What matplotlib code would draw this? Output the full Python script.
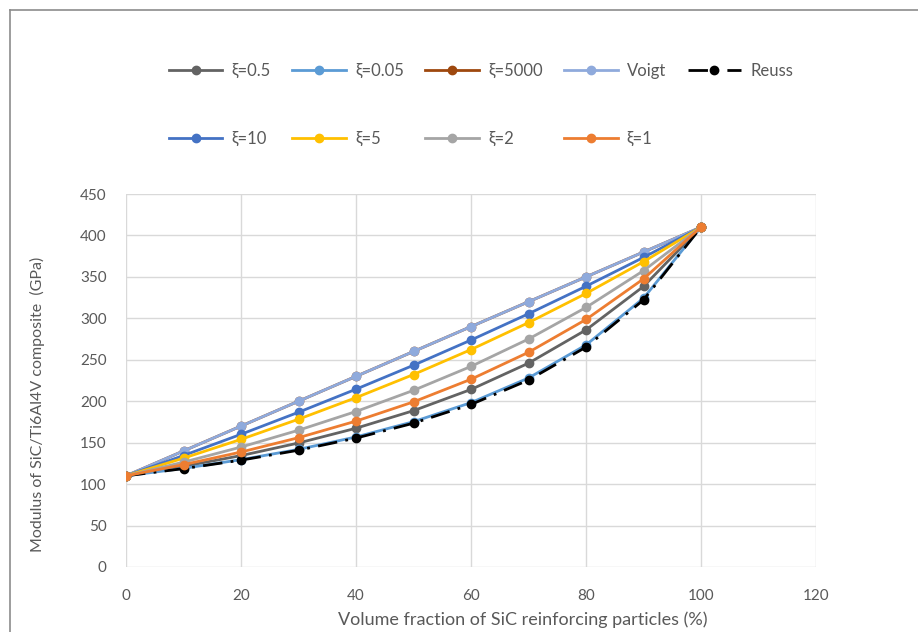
import matplotlib
matplotlib.use('Agg')
import matplotlib.pyplot as plt
from matplotlib.lines import Line2D

plt.rcParams['font.family'] = ['Lato', 'DejaVu Sans']

# volume fraction of SiC (%)
vf = [0, 10, 20, 30, 40, 50, 60, 70, 80, 90, 100]

# modulus (GPa)
e_xi05 = [110, 121.4, 134.4, 149.6, 167.4, 188.6, 214.2, 245.9, 286.0, 338.5, 410]
e_xi005 = [110, 119.0, 129.5, 141.9, 156.9, 175.3, 198.3, 228.0, 267.9, 324.3, 410]
e_xi5000 = [110, 140.0, 170.0, 200.0, 230.0, 260.0, 290.0, 320.0, 350.0, 380.0, 410]
e_voigt = [110, 140, 170, 200, 230, 260, 290, 320, 350, 380, 410]
e_reuss = [110, 118.7, 128.9, 140.9, 155.5, 173.5, 196.1, 225.5, 265.3, 322.2, 410]
e_xi10 = [110, 134.5, 160.1, 186.7, 214.5, 243.4, 273.8, 305.5, 338.7, 373.5, 410]
e_xi5 = [110, 131.3, 154.0, 178.3, 204.3, 232.2, 262.3, 294.8, 330.0, 368.3, 410]
e_xi2 = [110, 126.5, 144.7, 165.0, 187.6, 213.1, 242.0, 275.0, 313.1, 357.5, 410]
e_xi1 = [110, 123.5, 138.7, 156.0, 176.0, 199.2, 226.5, 259.0, 298.6, 347.6, 410]

series = [
    ('ξ=0.5', e_xi05, '#636363', '-'),
    ('ξ=0.05', e_xi005, '#5B9BD5', '-'),
    ('ξ=5000', e_xi5000, '#9E480E', '-'),
    ('Voigt', e_voigt, '#8FAADC', '-'),
    ('Reuss', e_reuss, '#000000', (0, (7, 3, 1, 3))),
    ('ξ=10', e_xi10, '#4472C4', '-'),
    ('ξ=5', e_xi5, '#FFC000', '-'),
    ('ξ=2', e_xi2, '#A5A5A5', '-'),
    ('ξ=1', e_xi1, '#ED7D31', '-'),
]

fig = plt.figure(figsize=(9.18, 6.32), dpi=100)
ax = fig.add_axes([126/918, 65/632, 690/918, 373/632])

handles = {}
for label, ys, col, ls in series:
    h, = ax.plot(vf, ys, color=col, linestyle=ls, lw=2, marker='o',
                 markersize=6, markerfacecolor=col, markeredgecolor=col,
                 label=label)
    handles[label] = h

ax.set_xlim(0, 120)
ax.set_ylim(0, 450)
ax.set_xticks(range(0, 121, 20))
ax.set_yticks(range(0, 451, 50))
ax.grid(True, color='#D9D9D9', lw=1)
ax.set_axisbelow(True)
for s in ax.spines.values():
    s.set_visible(False)
ax.tick_params(length=0, labelsize=11, labelcolor='#595959')
ax.tick_params(axis='x', pad=16)
ax.tick_params(axis='y', pad=14)
ax.set_xlabel('Volume fraction of SiC reinforcing particles (%)',
              fontsize=13, color='#595959')
ax.xaxis.set_label_coords(0.575, -0.118)
ax.set_ylabel('Modulus of SiC/Ti6Al4V composite  (GPa)',
              fontsize=11.5, color='#595959')
ax.yaxis.set_label_coords(-0.118, 0.435)

# legend order so that rows read like the original
order = ['ξ=0.5', 'ξ=10', 'ξ=0.05', 'ξ=5', 'ξ=5000', 'ξ=2', 'Voigt', 'ξ=1', 'Reuss']
leg = fig.legend([handles[k] for k in order], order, ncol=5, frameon=False,
                 loc='center left', bbox_to_anchor=(154/918, 1 - 105/632),
                 fontsize=12, labelspacing=3.1, handlelength=3.2,
                 columnspacing=1.3, handletextpad=0.55, labelcolor='#595959')

# outer chart border (top and left only visible)
fig.add_artist(Line2D([10/918, 1], [1 - 9.5/632, 1 - 9.5/632],
                      transform=fig.transFigure, color='#8C8C8C', lw=1.2))
fig.add_artist(Line2D([10/918, 10/918], [0, 1 - 9.5/632],
                      transform=fig.transFigure, color='#8C8C8C', lw=1.2))

fig.savefig('out.png', dpi=100)
